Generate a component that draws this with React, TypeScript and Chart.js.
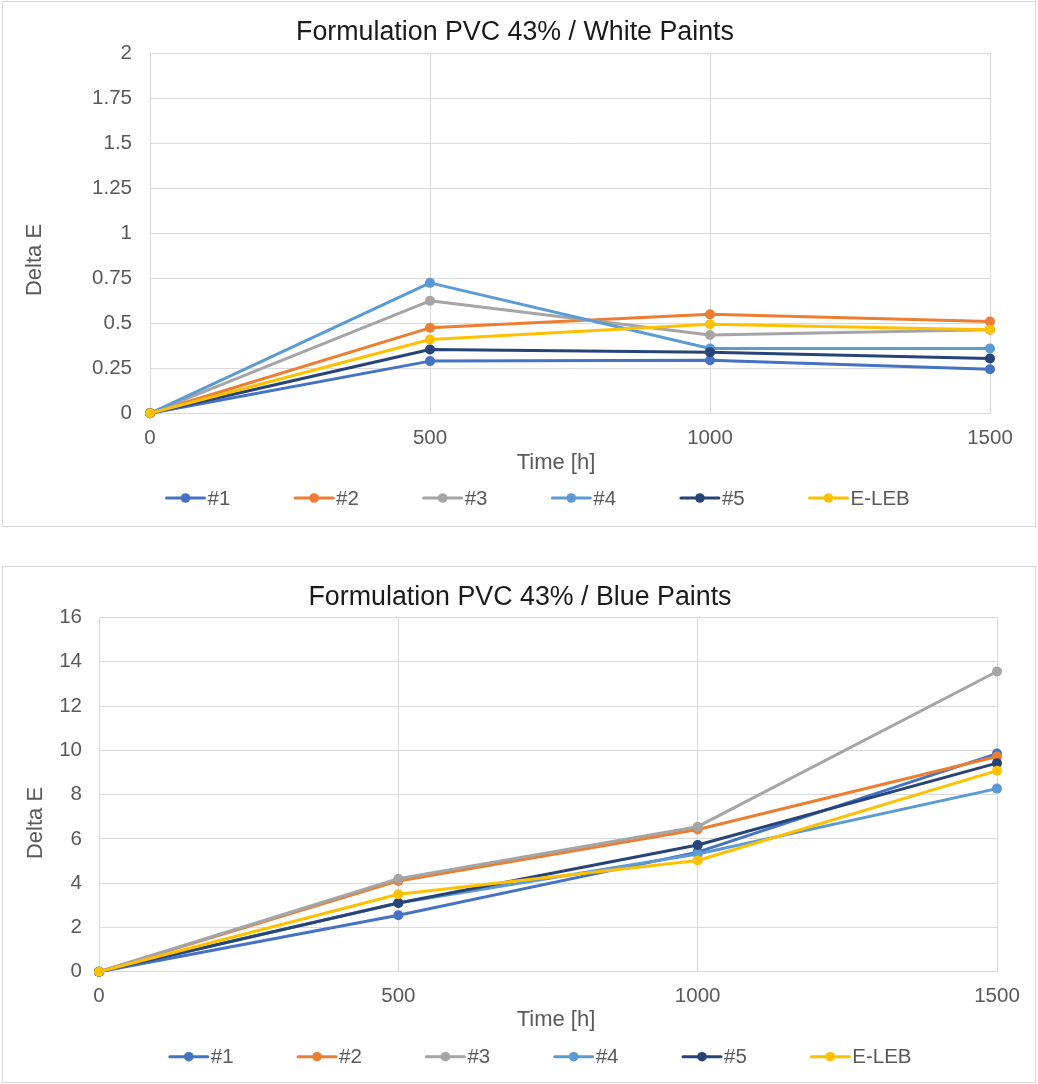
import React, { useEffect, useRef } from "react";
import { Chart, registerables } from "chart.js";

Chart.register(...registerables);

// ---------- data ----------
const timeHours = [0, 500, 1000, 1500];
const seriesNames = ["#1", "#2", "#3", "#4", "#5", "E-LEB"];
const seriesColors = ["#4472C4", "#ED7D31", "#A5A5A5", "#5B9BD5", "#264478", "#FFC000"];

const white1 = [0, 0.29, 0.295, 0.245];
const white2 = [0, 0.475, 0.55, 0.51];
const white3 = [0, 0.625, 0.435, 0.465];
const white4 = [0, 0.725, 0.36, 0.36];
const white5 = [0, 0.355, 0.34, 0.305];
const whiteELEB = [0, 0.41, 0.495, 0.465];

const blue1 = [0, 2.55, 5.4, 9.85];
const blue2 = [0, 4.1, 6.42, 9.72];
const blue3 = [0, 4.2, 6.55, 13.56];
const blue4 = [0, 3.1, 5.32, 8.27];
const blue5 = [0, 3.1, 5.72, 9.42];
const blueELEB = [0, 3.5, 5.02, 9.08];

const xTicks = [0, 500, 1000, 1500];
const whiteYTicks = [0, 0.25, 0.5, 0.75, 1, 1.25, 1.5, 1.75, 2];
const blueYTicks = [0, 2, 4, 6, 8, 10, 12, 14, 16];

const whiteTitle = "Formulation PVC 43% / White Paints";
const blueTitle = "Formulation PVC 43% / Blue Paints";
const yAxisTitle = "Delta E";
const xAxisTitle = "Time [h]";

// ---------- styles ----------
const FONT = '"Liberation Sans", Arial, Helvetica, sans-serif';
const TICK_COLOR = "#595959";
const GRID_COLOR = "#d9d9d9";

type Spec = {
  width: number;
  height: number;
  title: string;
  series: number[][];
  yTicks: number[];
  padL: number;
  padR: number;
  padB: number;
  yAxisWidth: number;
  xAxisHeight: number;
  titlePadTop: number;
  titlePadBottom: number;
  yTickPad: number;
  yTitleX: number;
  yTitleY: number;
  xTitleX: number;
  xTitleY: number;
  legendX: number;
  legendY: number;
  legendStep: number;
};

const decorPlugin = {
  id: "decor",
  afterDraw(chart: any, _args: any, opts: any) {
    const ctx: CanvasRenderingContext2D = chart.ctx;
    ctx.save();
    // axis titles
    ctx.fillStyle = TICK_COLOR;
    ctx.font = `22px ${FONT}`;
    ctx.textAlign = "center";
    ctx.textBaseline = "middle";
    ctx.save();
    ctx.translate(opts.yTitleX, opts.yTitleY);
    ctx.rotate(-Math.PI / 2);
    ctx.fillText(yAxisTitle, 0, 0);
    ctx.restore();
    ctx.fillText(xAxisTitle, opts.xTitleX, opts.xTitleY);

    // legend
    ctx.font = `20.5px ${FONT}`;
    ctx.textAlign = "left";
    seriesNames.forEach((name, i) => {
      const x0 = opts.legendX + i * opts.legendStep;
      const y = opts.legendY;
      ctx.strokeStyle = seriesColors[i];
      ctx.lineWidth = 3;
      ctx.lineCap = "round";
      ctx.beginPath();
      ctx.moveTo(x0 + 1, y);
      ctx.lineTo(x0 + 39, y);
      ctx.stroke();
      ctx.fillStyle = seriesColors[i];
      ctx.beginPath();
      ctx.arc(x0 + 20, y, 4.8, 0, Math.PI * 2);
      ctx.fill();
      ctx.fillStyle = TICK_COLOR;
      ctx.fillText(name, x0 + 42, y + 1);
    });
    ctx.restore();
  },
};

function buildConfig(s: Spec): any {
  const n = seriesNames.length;
  return {
    type: "line",
    data: {
      datasets: s.series.map((vals, i) => ({
        label: seriesNames[i],
        data: timeHours.map((t, j) => ({ x: t, y: vals[j] })),
        borderColor: seriesColors[i],
        backgroundColor: seriesColors[i],
        pointBackgroundColor: seriesColors[i],
        pointBorderColor: seriesColors[i],
        borderWidth: 3,
        pointRadius: 5,
        pointBorderWidth: 0,
        pointHoverRadius: 5,
        tension: 0,
        fill: false,
        clip: false,
        order: n - i,
        borderCapStyle: "round",
        borderJoinStyle: "round",
      })),
    },
    options: {
      responsive: false,
      animation: false,
      devicePixelRatio: 1,
      events: [],
      layout: {
        autoPadding: false,
        padding: { left: s.padL, right: s.padR, top: 0, bottom: s.padB },
      },
      plugins: {
        legend: { display: false },
        tooltip: { enabled: false },
        title: {
          display: true,
          text: s.title,
          color: "#1a1a1a",
          font: { family: FONT, size: 26.8, weight: "normal", lineHeight: 1.2 },
          padding: { top: s.titlePadTop, bottom: s.titlePadBottom },
        },
        decor: {
          yTitleX: s.yTitleX,
          yTitleY: s.yTitleY,
          xTitleX: s.xTitleX,
          xTitleY: s.xTitleY,
          legendX: s.legendX,
          legendY: s.legendY,
          legendStep: s.legendStep,
        },
      },
      scales: {
        x: {
          type: "linear",
          min: xTicks[0],
          max: xTicks[xTicks.length - 1],
          afterBuildTicks: (sc: any) => {
            sc.ticks = xTicks.map((v) => ({ value: v }));
          },
          afterFit: (sc: any) => {
            sc.height = s.xAxisHeight;
            sc.paddingLeft = 0;
            sc.paddingRight = 0;
          },
          grid: { color: GRID_COLOR, lineWidth: 1, drawTicks: false },
          border: { color: GRID_COLOR, width: 1 },
          ticks: {
            color: TICK_COLOR,
            font: { family: FONT, size: 20.5, lineHeight: 1.2 },
            padding: 12.7,
            maxRotation: 0,
            autoSkip: false,
            callback: (v: any) => String(v),
          },
        },
        y: {
          type: "linear",
          min: s.yTicks[0],
          max: s.yTicks[s.yTicks.length - 1],
          afterBuildTicks: (sc: any) => {
            sc.ticks = s.yTicks.map((v) => ({ value: v }));
          },
          afterFit: (sc: any) => {
            sc.width = s.yAxisWidth;
            sc.paddingTop = 0;
            sc.paddingBottom = 0;
          },
          grid: { color: GRID_COLOR, lineWidth: 1, drawTicks: false },
          border: { color: GRID_COLOR, width: 1 },
          ticks: {
            color: TICK_COLOR,
            font: { family: FONT, size: 20.5, lineHeight: 1.2 },
            padding: s.yTickPad,
            autoSkip: false,
            callback: (v: any) => String(v),
          },
        },
      },
    },
    plugins: [decorPlugin],
  };
}

const whiteSpec: Spec = {
  width: 1032,
  height: 524,
  title: whiteTitle,
  series: [white1, white2, white3, white4, white5, whiteELEB],
  yTicks: whiteYTicks,
  padL: 37,
  padR: 45,
  padB: 62.7,
  yAxisWidth: 110,
  xAxisHeight: 50,
  titlePadTop: 14.4,
  titlePadBottom: 4.9,
  yTickPad: 18,
  yTitleX: 32,
  yTitleY: 258,
  xTitleX: 553,
  xTitleY: 461.3,
  legendX: 162.5,
  legendY: 496,
  legendStep: 128.6,
};

const blueSpec: Spec = {
  width: 1032,
  height: 515,
  title: blueTitle,
  series: [blue1, blue2, blue3, blue4, blue5, blueELEB],
  yTicks: blueYTicks,
  padL: 40,
  padR: 38,
  padB: 60.3,
  yAxisWidth: 56,
  xAxisHeight: 50,
  titlePadTop: 14.4,
  titlePadBottom: 3.9,
  yTickPad: 17,
  yTitleX: 33,
  yTitleY: 256,
  xTitleX: 553,
  xTitleY: 453,
  legendX: 165.8,
  legendY: 489.7,
  legendStep: 128.3,
};

function ChartBox({ spec, left, top }: { spec: Spec; left: number; top: number }) {
  const ref = useRef<HTMLCanvasElement | null>(null);
  useEffect(() => {
    if (!ref.current) return;
    const chart = new Chart(ref.current, buildConfig(spec));
    return () => chart.destroy();
  }, [spec]);
  return (
    <div
      style={{
        position: "absolute",
        left,
        top,
        width: spec.width,
        height: spec.height,
        border: "1px solid #d9d9d9",
        background: "#ffffff",
      }}
    >
      <canvas ref={ref} width={spec.width} height={spec.height} style={{ display: "block" }} />
    </div>
  );
}

export default function App() {
  return (
    <div
      style={{
        position: "absolute",
        left: 0,
        top: 0,
        width: 1038,
        height: 1084,
        background: "#ffffff",
      }}
    >
      <ChartBox spec={whiteSpec} left={2} top={1} />
      <ChartBox spec={blueSpec} left={2} top={566} />
    </div>
  );
}
